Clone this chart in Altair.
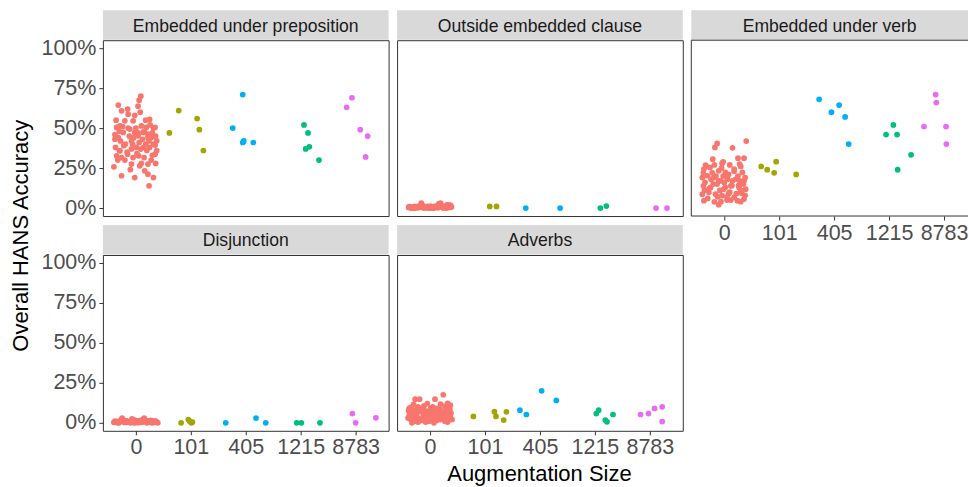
import json
import altair as alt
import pandas as pd

FONT = "Liberation Sans"

patterns = [
    "Embedded under preposition",
    "Outside embedded clause",
    "Embedded under verb",
    "Disjunction",
    "Adverbs",
]
sizes = ["0", "101", "405", "1215", "8783"]
size_colors = ["#F8766D", "#A3A500", "#00B0F6", "#00BF7D", "#E76BF3"]
y_ticks = [0, 0.25, 0.5, 0.75, 1.0]

# Each run: (horizontal jitter within its size column, HANS accuracy)
prep_base = [
    (0.09, .700), (0.06, .675), (0.04, .637), (-0.32, .644), (-0.26, .608), (-0.15, .619), (-0.14, .587),
    (0.25, .554), (-0.35, .504), (-0.29, .514), (-0.20, .546), (-0.05, .546), (0.10, .514), (0.19, .504),
    (0.32, .500), (0.35, .504), (-0.38, .431), (-0.32, .441), (-0.23, .473), (-0.11, .494), (-0.02, .473),
    (0.04, .452), (0.13, .473), (0.22, .462), (0.28, .441), (0.38, .421), (0.35, .394), (-0.37, .379),
    (-0.29, .358), (-0.19, .400), (-0.08, .421), (0.01, .379), (0.09, .369), (0.18, .400), (0.25, .379),
    (-0.35, .327), (-0.26, .316), (-0.15, .337), (-0.05, .316), (0.05, .327), (0.15, .316), (0.35, .337),
    (0.36, .279), (0.22, .275), (-0.40, .258), (-0.08, .275), (0.07, .264), (-0.26, .202), (-0.02, .191),
    (0.16, .233), (0.22, .212), (0.32, .191), (0.24, .139),
    (-0.30, .48), (-0.12, .45), (0.00, .50), (0.12, .43), (0.30, .47), (-0.22, .39), (0.06, .41),
    (0.20, .36), (-0.38, .46), (0.26, .52), (-0.06, .40), (0.15, .48), (-0.28, .42), (0.36, .45),
    (-0.16, .35), (0.02, .34), (0.28, .30), (-0.33, .30), (0.10, .28), (-0.10, .24), (0.32, .40),
    (-0.24, .51), (0.18, .55), (-0.02, .58), (0.08, .60), (-0.36, .55), (0.22, .44), (-0.08, .37),
    (0.38, .36), (-0.20, .30), (0.14, .38), (-0.30, .36), (0.04, .47), (0.30, .33), (-0.14, .50),
    (0.24, .42), (-0.04, .44),
]
prep_aug = {
    "101": [(-0.22, .61), (-0.39, .47), (0.115, .56), (0.156, .49), (0.229, .36)],
    "405": [(-0.055, .71), (-0.236, .50), (-0.036, .42), (-0.055, .41), (0.138, .41)],
    "1215": [(0.06, .52), (0.133, .47), (0.157, .383), (0.091, .37), (0.333, .30)],
    "8783": [(-0.067, .69), (-0.164, .63), (0.084, .49), (0.218, .45), (0.182, .32)],
}

outside_base_jit = [
    -0.39, -0.35, -0.37, -0.31, -0.33, -0.28, -0.26, -0.29, -0.23, -0.21,
    -0.24, -0.18, -0.16, -0.19, -0.13, -0.11, -0.14, -0.08, -0.06, -0.09,
    -0.03, -0.01, -0.04, 0.02, 0.04, 0.01, 0.07, 0.09, 0.06, 0.12,
    0.14, 0.11, 0.17, 0.19, 0.16, 0.22, 0.24, 0.21, 0.27, 0.29,
    0.26, 0.32, 0.34, 0.31, 0.37, 0.39, 0.36, -0.38, -0.30, -0.22,
    -0.15, -0.07, 0.00, 0.08, 0.15, 0.23, 0.30, 0.38, -0.34, -0.20,
    -0.10, 0.05, 0.18, 0.33, -0.27, -0.12, 0.03, 0.13, 0.25, 0.35,
]
outside_base_acc = [
    0.004, 0.000, 0.008, 0.002, 0.006, 0.010, 0.003, 0.000, 0.007, 0.012,
    0.002, 0.005, 0.030, 0.009, 0.004, 0.000, 0.011, 0.006, 0.002, 0.008,
    0.000, 0.005, 0.010, 0.003, 0.007, 0.012, 0.001, 0.006, 0.004, 0.009,
    0.002, 0.011, 0.008, 0.030, 0.026, 0.005, 0.000, 0.010, 0.007, 0.003,
    0.012, 0.018, 0.004, 0.020, 0.016, 0.006, 0.018, 0.009, 0.001, 0.005,
    0.022, 0.007, 0.002, 0.010, 0.004, 0.008, 0.000, 0.012, 0.006, 0.003,
    0.009, 0.001, 0.014, 0.007, 0.004, 0.011, 0.000, 0.005, 0.008, 0.013,
]
outside_aug = {
    "101": [(0.087, .010), (0.209, .010)],
    "405": [(-0.258, .000), (0.367, .000)],
    "1215": [(0.100, .000), (0.209, .0125)],
    "8783": [(0.113, .000), (0.313, .000)],
}

verb_base = [
    (0.40, .419), (-0.13, .404), (-0.17, .379), (0.15, .377), (-0.21, .306), (-0.02, .289), (-0.04, .279),
    (-0.34, .269), (0.25, .312), (0.36, .312), (0.28, .275), (-0.37, .244), (-0.26, .254), (-0.10, .233),
    (0.02, .223), (0.18, .244), (0.33, .223), (-0.40, .191), (-0.31, .202), (-0.19, .191), (-0.07, .170),
    (0.05, .196), (0.21, .181), (0.36, .170), (-0.38, .139), (-0.25, .129), (-0.13, .150), (-0.01, .118),
    (0.12, .139), (0.27, .129), (0.39, .118), (-0.40, .087), (-0.28, .098), (-0.16, .087), (-0.04, .077),
    (0.08, .091), (0.18, .066), (0.32, .091), (-0.37, .046), (-0.18, .039), (-0.10, .021), (0.05, .050),
    (0.24, .046), (0.36, .056),
    (-0.33, .26), (-0.22, .22), (-0.05, .25), (0.10, .27), (0.30, .26), (-0.15, .20), (0.08, .21),
    (0.25, .20), (-0.35, .16), (-0.20, .15), (0.00, .16), (0.15, .17), (0.35, .15), (-0.28, .12),
    (-0.08, .11), (0.10, .10), (0.30, .11), (-0.38, .22), (-0.12, .07), (0.05, .07), (0.22, .09),
    (0.38, .08), (-0.30, .06), (0.12, .05), (0.30, .04), (-0.24, .18), (0.18, .23), (-0.02, .20),
    (0.28, .17), (-0.36, .11), (0.02, .13), (0.38, .19), (-0.18, .27), (0.14, .14), (-0.06, .04),
    (0.26, .14), (-0.10, .17), (0.06, .18),
]
verb_aug = {
    "101": [(-0.327, .26), (-0.218, .24), (-0.091, .22), (-0.055, .29), (0.309, .21)],
    "405": [(-0.273, .68), (-0.049, .60), (0.091, .644), (0.200, .57), (0.265, .40)],
    "1215": [(-0.055, .46), (0.078, .52), (0.145, .46), (0.156, .24), (0.400, .333)],
    "8783": [(-0.364, .51), (-0.153, .71), (-0.140, .66), (0.036, .51), (0.042, .40)],
}

disj_base_jit = [
    -0.40, -0.36, -0.33, -0.38, -0.30, -0.27, -0.25, -0.23, -0.20, -0.22,
    -0.17, -0.15, -0.12, -0.10, -0.07, -0.05, -0.08, -0.02, 0.00, -0.03,
    0.03, 0.05, 0.02, 0.08, 0.10, 0.07, 0.13, 0.15, 0.12, 0.18,
    0.20, 0.17, 0.23, 0.25, 0.22, 0.28, 0.30, 0.27, 0.33, 0.35,
    0.32, 0.38, 0.40, 0.37, -0.34, -0.29, -0.18, -0.13, -0.04, 0.04,
    0.09, 0.16, 0.24, 0.31, 0.36, -0.39, -0.26, -0.11, 0.01, 0.11,
    0.21, 0.34, -0.31, -0.19, -0.06, 0.06, 0.19, 0.29, -0.21, 0.14,
]
disj_base_acc = [
    0.003, 0.008, 0.000, 0.011, 0.005, 0.015, 0.030, 0.009, 0.002, 0.006,
    0.012, 0.004, 0.008, 0.000, 0.025, 0.010, 0.006, 0.003, 0.014, 0.000,
    0.007, 0.011, 0.002, 0.016, 0.005, 0.009, 0.020, 0.030, 0.013, 0.006,
    0.000, 0.010, 0.004, 0.008, 0.012, 0.002, 0.007, 0.015, 0.003, 0.009,
    0.011, 0.005, 0.000, 0.008, 0.006, 0.012, 0.010, 0.004, 0.018, 0.002,
    0.009, 0.022, 0.005, 0.001, 0.010, 0.004, 0.020, 0.007, 0.012, 0.003,
    0.008, 0.006, 0.000, 0.013, 0.009, 0.002, 0.011, 0.005, 0.007, 0.016,
]
disj_aug = {
    "101": [(-0.176, .000), (-0.044, .020), (-0.020, .010), (0.010, .000), (0.030, .005)],
    "405": [(-0.364, .000), (0.187, .030), (0.364, .000)],
    "1215": [(-0.073, .000), (0.011, .000), (0.351, .000)],
    "8783": [(-0.060, .058), (0.000, .000), (0.369, .031)],
}

adv_base = [
    (-0.27, .148), (-0.19, .148), (0.09, .148), (0.24, .175),
    (-0.35, .096), (0.19, .117), (0.32, .121), (0.32, .096), (-0.11, .106), (-0.30, .115), (-0.05, .120),
    (0.05, .100), (0.27, .105), (0.37, .110), (-0.22, .100), (0.13, .090), (-0.38, .090), (0.01, .090),
    (-0.39, .075), (-0.33, .060), (-0.28, .080), (-0.25, .055), (-0.20, .070), (-0.16, .085), (-0.12, .060),
    (-0.08, .075), (-0.04, .050), (0.00, .070), (0.04, .080), (0.08, .055), (0.11, .070), (0.15, .060),
    (0.18, .085), (0.22, .065), (0.26, .075), (0.30, .055), (0.34, .070), (0.38, .060), (-0.36, .050),
    (-0.14, .090), (0.20, .050), (0.36, .085), (-0.30, .068), (0.06, .065),
    (-0.40, .030), (-0.35, .020), (-0.31, .035), (-0.27, .010), (-0.24, .040), (-0.20, .025), (-0.17, .015),
    (-0.13, .035), (-0.10, .020), (-0.06, .040), (-0.02, .010), (0.02, .030), (0.05, .020), (0.09, .040),
    (0.12, .015), (0.16, .035), (0.19, .020), (0.23, .030), (0.27, .010), (0.30, .040), (0.33, .025),
    (0.37, .035), (0.40, .020), (-0.38, .045), (-0.22, .005), (0.00, .045), (0.14, .045), (0.32, .005),
    (-0.08, .005), (0.25, .045), (-0.33, .000), (0.07, .000),
]
adv_aug = {
    "101": [(-0.211, .040), (0.171, .070), (0.200, .040), (0.340, .017), (0.390, .069)],
    "405": [(-0.364, .079), (-0.247, .052), (0.031, .200), (0.298, .140)],
    "1215": [(0.026, .058), (0.069, .079), (0.190, .017), (0.220, .006), (0.330, .052)],
    "8783": [(-0.169, .052), (-0.024, .058), (0.085, .090), (0.225, .100), (0.225, .008)],
}

base_runs = {
    patterns[0]: prep_base,
    patterns[1]: list(zip(outside_base_jit, outside_base_acc)),
    patterns[2]: verb_base,
    patterns[3]: list(zip(disj_base_jit, disj_base_acc)),
    patterns[4]: adv_base,
}
aug_runs = {
    patterns[0]: prep_aug,
    patterns[1]: outside_aug,
    patterns[2]: verb_aug,
    patterns[3]: disj_aug,
    patterns[4]: adv_aug,
}

records = []
for pat in patterns:
    for jit, acc in base_runs[pat]:
        records.append({"pattern": pat, "size": "0", "idx": 1, "jit": jit, "acc": acc})
    for size, runs in aug_runs[pat].items():
        for jit, acc in runs:
            records.append({"pattern": pat, "size": size, "idx": sizes.index(size) + 1,
                            "jit": jit, "acc": acc})
data = pd.DataFrame(records)

# Layout (pixels)
W = 286          # panel width
W_LAST = 277     # right-most panel, cut at the page edge
H = 176          # panel height
STRIP = 30       # facet strip height
UNIT = 55        # pixels per size column
Y_DOMAIN = [-0.05, 1.05]
BORDER = "#333333"
TEXT_GREY = "#4D4D4D"

label_expr = f"{json.dumps(sizes)}[datum.value - 1]"

x_axis = alt.Axis(values=[1, 2, 3, 4, 5], labelExpr=label_expr, grid=False, domain=False,
                  ticks=True, tickSize=4, tickColor=BORDER, tickWidth=1,
                  labelFont=FONT, labelFontSize=21.5, labelColor=TEXT_GREY,
                  labelPadding=2, labelFlush=False, labelOverlap=False, title=None)
y_axis = alt.Axis(values=y_ticks, format=".0%", grid=False, domain=False,
                  ticks=True, tickSize=4, tickColor=BORDER, tickWidth=1,
                  labelFont=FONT, labelFontSize=21.5, labelColor=TEXT_GREY,
                  labelPadding=3, labelOverlap=False, title=None)


def panel(name, width, show_x, show_y, extras=(), open_right=False):
    df = data[data["pattern"] == name]
    x_max = 0.4 + width / UNIT
    points = alt.Chart(df).transform_calculate(
        xpos="datum.idx + datum.jit"
    ).mark_circle(size=33, opacity=1).encode(
        x=alt.X("xpos:Q", scale=alt.Scale(domain=[0.4, x_max], nice=False, zero=False),
                axis=x_axis if show_x else None),
        y=alt.Y("acc:Q", scale=alt.Scale(domain=Y_DOMAIN, nice=False, zero=False),
                axis=y_axis if show_y else None),
        color=alt.Color("size:N", scale=alt.Scale(domain=sizes, range=size_colors), legend=None),
    )
    label_df = pd.DataFrame({"label": [name]})
    strip = alt.Chart(label_df).mark_rect(color="#D9D9D9").encode(
        x=alt.value(0), x2=alt.value(width), y=alt.value(-STRIP), y2=alt.value(-0.5)
    )
    strip_text = alt.Chart(label_df).mark_text(
        font=FONT, fontSize=17.6, color="#1A1A1A", align="center", baseline="alphabetic"
    ).encode(x=alt.value(width / 2), y=alt.value(-8.5), text="label:N")
    layers = [strip, strip_text]
    if open_right:
        # border on three sides only: the panel runs off the right edge
        layers += [
            alt.Chart(label_df).mark_rule(color=BORDER, strokeWidth=1).encode(
                x=alt.value(0), y=alt.value(0), y2=alt.value(H)),
            alt.Chart(label_df).mark_rule(color=BORDER, strokeWidth=1).encode(
                x=alt.value(0), x2=alt.value(width), y=alt.value(0)),
            alt.Chart(label_df).mark_rule(color=BORDER, strokeWidth=1).encode(
                x=alt.value(0), x2=alt.value(width), y=alt.value(H)),
        ]
    layers += [points, *extras]
    chart = alt.layer(*layers).properties(width=width, height=H)
    if open_right:
        chart = chart.properties(view=alt.ViewBackground(stroke=None))
    return chart


title_df = pd.DataFrame({"t": ["Overall HANS Accuracy"]})
y_title = alt.Chart(title_df).mark_text(
    font=FONT, fontSize=22, color="black", angle=270, align="center", baseline="alphabetic"
).encode(x=alt.value(-74.5), y=alt.value(195.7), text="t:N")

xt_df = pd.DataFrame({"t": ["Augmentation Size"]})
x_title = alt.Chart(xt_df).mark_text(
    font=FONT, fontSize=22, color="black", align="center", baseline="alphabetic"
).encode(x=alt.value(142.5), y=alt.value(226.7), text="t:N")

p1 = panel(patterns[0], W, False, True, extras=[y_title])
p2 = panel(patterns[1], W, False, False)
p3 = panel(patterns[2], W_LAST, True, False, open_right=True)
p4 = panel(patterns[3], W, True, True)
p5 = panel(patterns[4], W, True, False, extras=[x_title])

chart = alt.concat(
    p1, p2, p3, p4, p5,
    columns=3,
    spacing={"row": 39, "column": 8.5},
    bounds="flush",
    align="each",
).properties(
    padding={"left": 10, "top": 9, "right": 0, "bottom": 1},
    background="white",
).configure_view(
    stroke=BORDER, strokeWidth=1
)

chart.save("out.html", embed_options={"renderer": "svg", "actions": False})
